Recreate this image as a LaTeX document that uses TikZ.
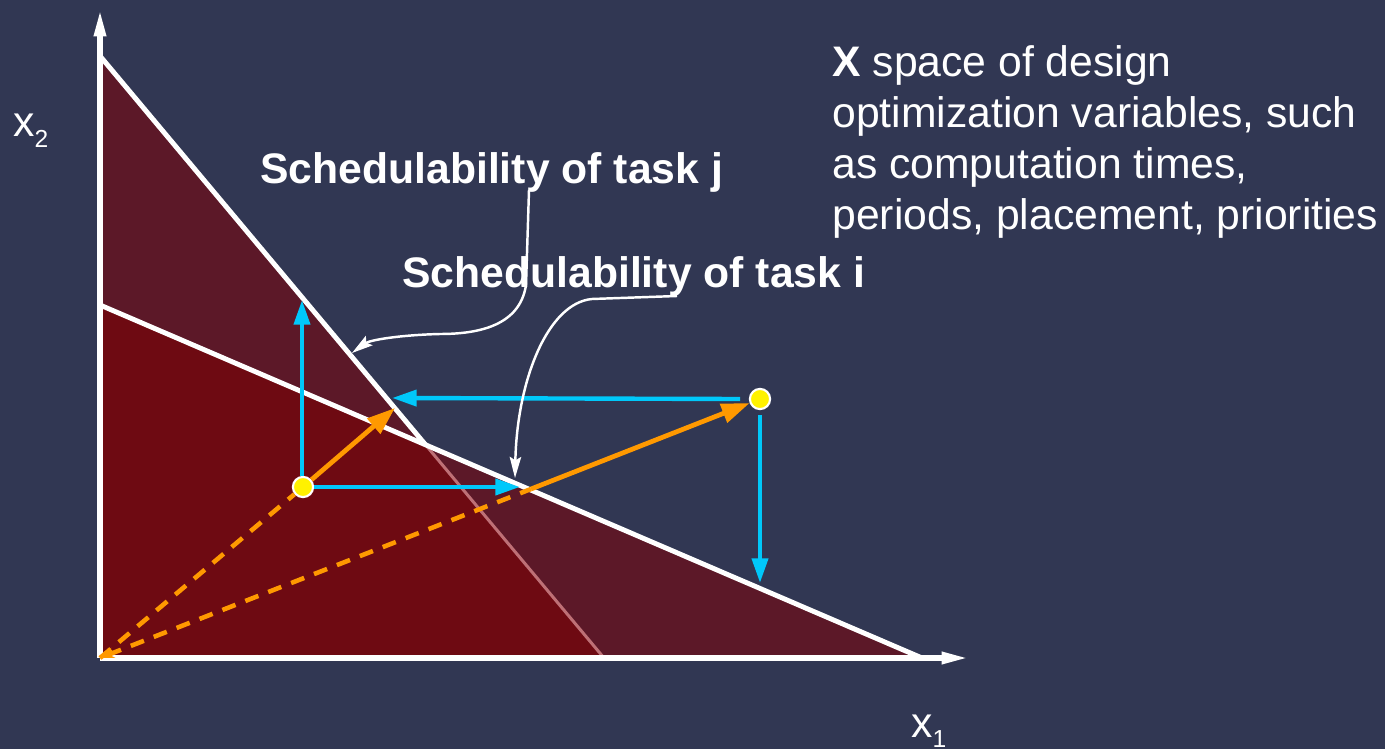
\documentclass[tikz,border=0pt]{standalone}
\usepackage{fontspec}
\setmainfont{Liberation Sans}
\usetikzlibrary{arrows.meta}
\definecolor{bg}{RGB}{49,55,83}
\definecolor{regboth}{RGB}{110,10,18}
\definecolor{regone}{RGB}{92,24,40}
\definecolor{faded}{RGB}{190,112,118}
\definecolor{cCyan}{RGB}{0,200,250}
\definecolor{cOrange}{RGB}{255,153,0}
\tikzset{
  axisline/.style={white, line width=2.9pt, -{Triangle[length=15pt,width=6.5pt]}},
  boundline/.style={white, line width=2.8pt},
  bluearrow/.style={cCyan, line width=2.5pt, -{Triangle[length=14pt,width=9pt]}},
  orangearrow/.style={cOrange, line width=2.7pt, -{Triangle[length=16pt,width=11pt]}},
  orangedash/.style={cOrange, line width=2.6pt, dash pattern=on 8pt off 6pt},
  callout/.style={white, line width=1.4pt, -{Stealth[length=12pt,width=6.5pt,inset=2pt]}},
  designpt/.style={circle, fill=yellow, draw=white, line width=1.2pt, minimum size=11.5pt, inner sep=0pt},
  bigtext/.style={text=white, inner sep=0pt, font=\fontsize{24.3}{29}\selectfont},
}
\begin{document}
\begin{tikzpicture}[x=0.02cm,y=-0.02cm]
\fill[bg] (0,0) rectangle (1385,749);
\useasboundingbox (0,0) rectangle (1385,749);

\coordinate (O) at (100,658);
\coordinate (J1) at (100,56);
\coordinate (J2) at (604,658);
\coordinate (I1) at (100,305);
\coordinate (I2) at (922,658);
\coordinate (X) at (intersection of J1--J2 and I1--I2);

% regions
\fill[regone] (J1) -- (X) -- (I2) -- (O) -- cycle;
\fill[regboth] (I1) -- (X) -- (J2) -- (O) -- cycle;

% boundaries
\draw[faded, line width=1.7pt] (X) -- (J2);
\draw[boundline] (J1) -- (X);
\draw[boundline] (I1) -- (I2);

% axes
\coordinate (Ytip) at (100,10);
\coordinate (Xtip) at (968,658);
\draw[axisline] (O) -- (Ytip);
\draw[axisline] (O) -- (Xtip);

% axis labels
\node[bigtext, anchor=base west] (x2) at (13,137) {x\raisebox{-5.7pt}{\fontsize{14}{14}\selectfont 2}};
\node[bigtext, anchor=base west] (x1) at (911,737) {x\raisebox{-5.7pt}{\fontsize{14}{14}\selectfont 1}};

% design points
\node[designpt] (A) at (303,487) {};
\node[designpt] (B) at (760,399) {};

% orange rays
\coordinate (Ai) at (531,489);
\coordinate (Aj) at (395,408);
\draw[orangedash] (O) -- (A);
\draw[orangedash, {Stealth[length=8pt,width=6pt]}-] (O) -- (Ai);
\draw[orangearrow] (A) -- (Aj);
\draw[orangearrow] (Ai) -- (B);

% blue arrows
\coordinate (Up) at (302,300);
\coordinate (Rt) at (520,487);
\coordinate (Lt) at (392,398);
\coordinate (Dn) at (760,583);
\draw[bluearrow] (A.north -| Up) -- (Up);
\draw[bluearrow] (A.east) -- (Rt);
\draw[bluearrow] ([xshift=-5pt]B.west) -- (Lt);
\draw[bluearrow] ([yshift=-3pt]B.south) -- (Dn);

% labels
\node[bigtext, anchor=base west, font=\fontsize{24.3}{29}\selectfont\bfseries] (tj) at (260,184) {Schedulability of task j};
\node[bigtext, anchor=base west, font=\fontsize{24.3}{29}\selectfont\bfseries] (ti) at (402,288) {Schedulability of task i};

\node[bigtext, anchor=base west] (desc) at (832,77) {\begin{tabular}[t]{@{}l@{}}\textbf{X} space of design\\ optimization variables, such\\ as computation times,\\ periods, placement, priorities\end{tabular}};

% callouts
\coordinate (Jstart) at (529,190);
\coordinate (Jtip) at (352,353);
\coordinate (Istart) at (677,296);
\coordinate (Itip) at (515,478);
\draw[callout] (Jstart) -- (526,285) .. controls (520,325) and (480,334) .. (440,334) .. controls (400,335) and (370,340) .. (Jtip);
\draw[callout] (Istart) -- (592,299) .. controls (548,303) and (517,380) .. (Itip);
\end{tikzpicture}
\end{document}
